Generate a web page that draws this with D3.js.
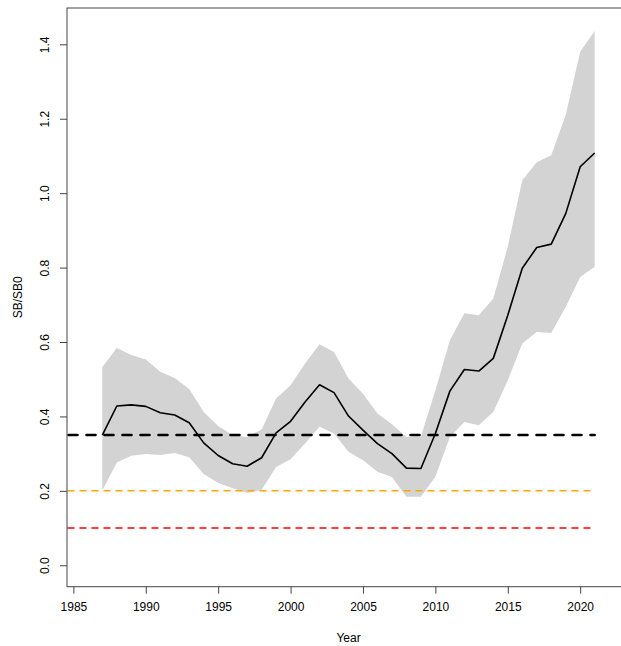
<!DOCTYPE html>
<html>
<head>
<meta charset="utf-8">
<script src="https://cdn.jsdelivr.net/npm/d3@7"></script>
<style>
  html, body { margin: 0; padding: 0; background: #fff; }
  svg { display: block; }
  text { font-family: "Liberation Sans", Arial, sans-serif; font-size: 12px; fill: #000; }
</style>
</head>
<body>
<svg id="chart" width="621" height="646"></svg>
<script>
const years = d3.range(1987, 2022);
const ratio = [0.350,0.428,0.431,0.427,0.410,0.404,0.383,0.329,0.295,0.273,0.266,0.289,0.356,0.387,0.439,0.485,0.464,0.401,0.363,0.327,0.300,0.261,0.260,0.354,0.468,0.526,0.522,0.556,0.672,0.798,0.854,0.863,0.945,1.071,1.108];
const upper = [0.533,0.584,0.565,0.553,0.520,0.503,0.474,0.412,0.374,0.350,0.345,0.365,0.448,0.484,0.542,0.594,0.573,0.502,0.461,0.408,0.379,0.345,0.346,0.470,0.605,0.677,0.672,0.717,0.856,1.035,1.083,1.102,1.210,1.380,1.436];
const lower = [0.201,0.276,0.294,0.299,0.296,0.302,0.290,0.245,0.221,0.207,0.194,0.203,0.264,0.285,0.327,0.372,0.354,0.305,0.282,0.251,0.237,0.184,0.184,0.238,0.345,0.385,0.376,0.412,0.497,0.596,0.627,0.624,0.694,0.775,0.802];
const refLevels = [0.35, 0.2, 0.1];
const refColors = ["#000000", "#FFA500", "#FF0000"];
const xTicks = [1985, 1990, 1995, 2000, 2005, 2010, 2015, 2020];
const yTicks = [0.0, 0.2, 0.4, 0.6, 0.8, 1.0, 1.2, 1.4];

const svg = d3.select("#chart");
const L = 67, R = 630, T = 8, B = 586.7;
const x = d3.scaleLinear().domain([1984.56, 2023.44]).range([L, R]);
const y = d3.scaleLinear().domain([-0.0576, 1.4976]).range([B, T]);

const data = years.map((yr, i) => ({yr, m: ratio[i], lo: lower[i], hi: upper[i]}));

// band
svg.append("path")
  .datum(data)
  .attr("fill", "#D3D3D3")
  .attr("stroke", "none")
  .attr("d", d3.area().x(d => x(d.yr)).y0(d => y(d.lo)).y1(d => y(d.hi)));

// line
svg.append("path")
  .datum(data)
  .attr("fill", "none")
  .attr("stroke", "#000")
  .attr("stroke-width", 1.6)
  .attr("stroke-linejoin", "round")
  .attr("d", d3.line().x(d => x(d.yr)).y(d => y(d.m)));

// reference lines
refLevels.forEach((v, i) => {
  const big = i === 0;
  svg.append("line")
    .attr("x1", x(x.domain()[0]) + (big ? 1.5 : 1))
    .attr("x2", x(years[years.length - 1]))
    .attr("y1", y(v)).attr("y2", y(v))
    .attr("stroke", refColors[i])
    .attr("stroke-width", big ? 2.6 : 1.5)
    .attr("stroke-linecap", "round")
    .attr("stroke-dasharray", big ? "9,9" : "6,6");
});

// box
svg.append("rect")
  .attr("x", L).attr("y", T)
  .attr("width", R - L).attr("height", B - T)
  .attr("fill", "none").attr("stroke", "#444").attr("stroke-width", 1);

// x axis
const xAxis = svg.append("g").attr("transform", `translate(0,${B})`)
  .call(d3.axisBottom(x).tickValues(xTicks).tickFormat(d3.format("d")).tickSize(7).tickPadding(9));
xAxis.select(".domain").remove();
xAxis.selectAll("line").attr("stroke", "#444");
xAxis.selectAll("text").attr("font-size", 12).attr("font-family", "Liberation Sans, Arial, sans-serif").attr("fill", "#000");

// y axis
const yAxis = svg.append("g").attr("transform", `translate(${L},0)`)
  .call(d3.axisLeft(y).tickValues(yTicks).tickFormat(d3.format(".1f")).tickSize(7));
yAxis.select(".domain").remove();
yAxis.selectAll("line").attr("stroke", "#444");
yAxis.selectAll("text")
  .attr("font-size", 12).attr("font-family", "Liberation Sans, Arial, sans-serif").attr("fill", "#000")
  .attr("x", null).attr("dy", null)
  .attr("text-anchor", "middle")
  .attr("dominant-baseline", "central")
  .attr("transform", "translate(-22,0) rotate(-90)");

// axis titles
svg.append("text")
  .attr("x", (L + R) / 2).attr("y", 638)
  .attr("text-anchor", "middle").attr("dominant-baseline", "central")
  .text("Year");
svg.append("text")
  .attr("transform", `translate(18,${(T + B) / 2}) rotate(-90)`)
  .attr("text-anchor", "middle").attr("dominant-baseline", "central")
  .text("SB/SB0");
</script>
</body>
</html>
